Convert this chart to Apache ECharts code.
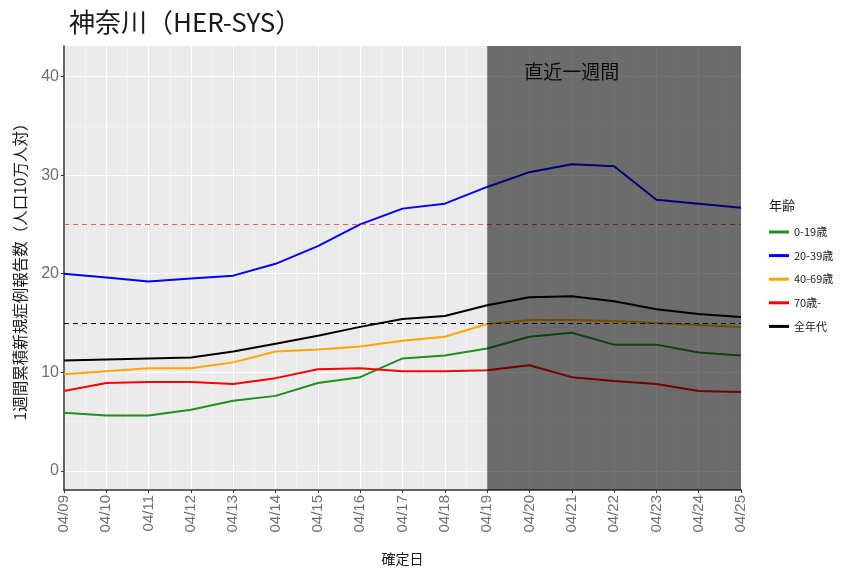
<!DOCTYPE html>
<html>
<head>
<meta charset="utf-8">
<script src="https://cdn.jsdelivr.net/npm/echarts@6/dist/echarts.min.js"></script>
<style>html,body{margin:0;padding:0;background:#fff;}#c{width:846px;height:571px;}</style>
</head>
<body>
<div id="c"></div>
<script>
const dates = ['04/09','04/10','04/11','04/12','04/13','04/14','04/15','04/16','04/17','04/18','04/19','04/20','04/21','04/22','04/23','04/24','04/25'];
const seriesNames = ['0-19歳','20-39歳','40-69歳','70歳-','全年代'];
const age0_19  = [5.9,5.6,5.6,6.2,7.1,7.6,8.9,9.5,11.4,11.7,12.4,13.6,14.0,12.8,12.8,12.0,11.7];
const age20_39 = [20.0,19.6,19.2,19.5,19.8,21.0,22.8,25.0,26.6,27.1,28.8,30.3,31.1,30.9,27.5,27.1,26.7];
const age40_69 = [9.8,10.1,10.4,10.4,11.0,12.1,12.3,12.6,13.2,13.6,14.9,15.3,15.3,15.2,15.0,14.8,14.6];
const age70    = [8.1,8.9,9.0,9.0,8.8,9.4,10.3,10.4,10.1,10.1,10.2,10.7,9.5,9.1,8.8,8.1,8.0];
const allAges  = [11.2,11.3,11.4,11.5,12.1,12.9,13.7,14.6,15.4,15.7,16.8,17.6,17.7,17.2,16.4,15.9,15.6];
const seriesColors = ['#1f8f1f','#0000ff','#ffa500','#ff0000','#000000'];
const yTicks = [0,10,20,30,40];
const yMinorTicks = [5,15,25,35];
const refLines = [25,15];
const highlightRange = ['04/19','04/25'];
const highlightLabel = '直近一週間';
const highlightLabelPos = ['04/21', 40.5];

const yMin = -1.95, yMax = 43.1;
const idx = d => dates.indexOf(d);
const toPairs = arr => arr.map((v,i)=>[i,v]);
const allData = [age0_19, age20_39, age40_69, age70, allAges];

const chart = echarts.init(document.getElementById('c'));
const lineSeries = allData.map((arr,k)=>({
  name: seriesNames[k], type:'line', data: toPairs(arr), showSymbol:false, symbol:'none',
  lineStyle:{color:seriesColors[k], width:2}, itemStyle:{color:seriesColors[k]}, z:4, silent:true, animation:false
}));

chart.setOption({
  animation:false,
  title:[
    {text:'神奈川（HER-SYS）', left:64, top:4, textStyle:{fontSize:26, fontWeight:'normal', color:'#1a1a1a', fontFamily:'Noto Sans CJK JP'}},
    {text:'年齢', left:764, top:194, textStyle:{fontSize:13, fontWeight:'normal', color:'#1a1a1a', fontFamily:'Noto Sans CJK JP'}}
  ],
  legend:{
    data: seriesNames, orient:'vertical', left:764, top:220, icon:'rect', itemWidth:20, itemHeight:3, itemGap:9.6,
    textStyle:{fontSize:11, color:'#1a1a1a', fontFamily:'Noto Sans CJK JP', lineHeight:14}
  },
  grid:{left:64, right:105, top:46, bottom:81, show:true, backgroundColor:'#ebebeb', borderWidth:0, z:-1},
  xAxis:{
    type:'value', min:0, max:dates.length-1, interval:1, z:1,
    name:'確定日', nameLocation:'middle', nameGap:62,
    nameTextStyle:{fontSize:14, color:'#1a1a1a', fontFamily:'Noto Sans CJK JP'},
    axisLine:{show:true, onZero:false, lineStyle:{color:'#333', width:1.5}},
    axisTick:{show:true, length:3, lineStyle:{color:'#333'}},
    axisLabel:{rotate:90, fontSize:15, color:'#707070', margin:5, fontFamily:'Liberation Sans', formatter:v=>dates[v]||''},
    splitLine:{show:true, lineStyle:{color:'#ffffff', width:1.1}},
    minorSplitLine:{show:true, lineStyle:{color:'#f6f6f6', width:0.6}},
    minorTick:{show:false, splitNumber:2}
  },
  yAxis:[{
    type:'value', min:yMin, max:yMax, z:1,
    name:'1週間累積新規症例報告数（人口10万人対）', nameLocation:'middle', nameGap:36, nameRotate:90,
    nameTextStyle:{fontSize:15.5, color:'#1a1a1a', fontFamily:'Noto Sans CJK JP'},
    axisLine:{show:true, onZero:false, lineStyle:{color:'#333', width:1.5}},
    axisTick:{show:true, length:3, customValues:yTicks, lineStyle:{color:'#333'}},
    axisLabel:{fontSize:16, color:'#707070', margin:5, customValues:yTicks, fontFamily:'Liberation Sans'},
    splitLine:{show:true, lineStyle:{color:'#ffffff', width:1.1}}
  },{
    type:'value', min:yMin, max:yMax, position:'left', z:1,
    axisLine:{show:false}, axisLabel:{show:false},
    axisTick:{show:false, customValues:yMinorTicks},
    splitLine:{show:true, lineStyle:{color:'#f6f6f6', width:0.6}}
  }],
  series:[
    {
      name:'ref', type:'line', data:[], silent:true, z:3,
      markLine:{silent:true, symbol:['none','none'], label:{show:false},
        data:[
          {yAxis:refLines[0], lineStyle:{color:'#e06060', type:[5,4], width:1.1}},
          {yAxis:refLines[1], lineStyle:{color:'#000', type:[5,4], width:1.1}}
        ]}
    },
    ...lineSeries,
    {
      name:'highlight', type:'line', silent:true, z:10, symbol:'none', showSymbol:false,
      data:[[idx(highlightRange[0]), yMax],[idx(highlightRange[1]), yMax]],
      lineStyle:{width:0}, areaStyle:{color:'rgba(0,0,0,0.54)', origin:'start', opacity:1},
      markPoint:{silent:true, symbol:'circle', symbolSize:0,
        data:[{coord:[idx(highlightLabelPos[0]), highlightLabelPos[1]], value:highlightLabel}],
        label:{show:true, position:'inside', formatter:highlightLabel, fontSize:19, color:'#1a1a1a', fontFamily:'Noto Sans CJK JP'}}
    }
  ]
});
</script>
</body>
</html>
